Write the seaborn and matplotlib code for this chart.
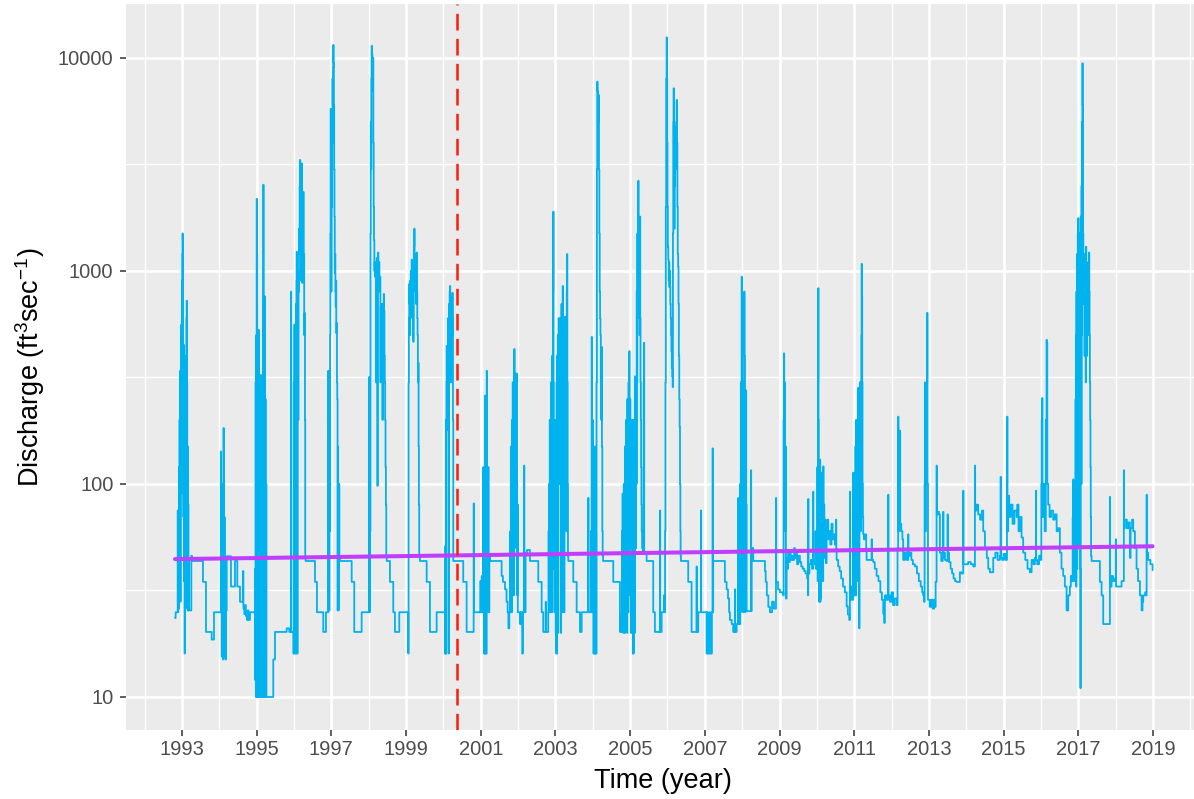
import matplotlib
matplotlib.use("Agg")
import matplotlib.pyplot as plt
import seaborn as sns
import pandas as pd
from matplotlib.ticker import FixedLocator, FixedFormatter

# ---------------- data (decimal year, discharge ft3/s) ----------------
flow_1993_1994 = [
    (1992.813, 23.5), (1992.830, 25), (1992.885, 75), (1992.893, 25), (1992.901, 60), (1992.909, 26),
    (1992.917, 120), (1992.925, 30), (1992.933, 200), (1992.941, 45), (1992.949, 340), (1992.957, 28),
    (1992.965, 250), (1992.973, 90), (1992.981, 560), (1992.989, 300), (1992.997, 900), (1993.005, 1200),
    (1993.013, 1500), (1993.021, 1400), (1993.029, 300), (1993.037, 70), (1993.045, 450), (1993.053, 35),
    (1993.061, 200), (1993.069, 16), (1993.077, 120), (1993.085, 30), (1993.093, 400), (1993.101, 60),
    (1993.109, 250), (1993.117, 600), (1993.125, 725), (1993.133, 300), (1993.141, 26), (1993.149, 150),
    (1993.157, 25.5), (1993.165, 80), (1993.173, 25.5), (1993.181, 45), (1993.189, 25.5), (1993.250, 46),
    (1993.268, 43.5), (1993.562, 34.7), (1993.643, 20.2), (1993.795, 18.6), (1993.857, 25),
    (1994.040, 142), (1994.048, 25), (1994.056, 60), (1994.064, 15.5), (1994.072, 30), (1994.080, 16),
    (1994.088, 100), (1994.096, 15), (1994.104, 60), (1994.112, 183), (1994.120, 40), (1994.128, 15.5),
    (1994.136, 70), (1994.144, 16), (1994.152, 30), (1994.160, 15), (1994.175, 25.5), (1994.197, 45.8),
    (1994.312, 33), (1994.419, 43.5), (1994.481, 33), (1994.553, 28), (1994.630, 39), (1994.645, 26),
    (1994.670, 24.5), (1994.690, 27), (1994.710, 24), (1994.740, 23), (1994.760, 25.5), (1994.780, 23),
    (1994.821, 25),
]

flow_1995_1996 = [
    (1994.954, 40), (1994.962, 12), (1994.970, 300), (1994.978, 10), (1994.986, 500), (1994.994, 30),
    (1995.000, 2180), (1995.008, 1200), (1995.016, 10), (1995.024, 400), (1995.032, 10), (1995.040, 150),
    (1995.054, 528), (1995.062, 12), (1995.070, 250), (1995.078, 10), (1995.086, 200), (1995.094, 10),
    (1995.100, 120), (1995.107, 325), (1995.115, 10), (1995.123, 180), (1995.131, 10), (1995.139, 90),
    (1995.147, 10), (1995.155, 300), (1995.163, 10), (1995.170, 700), (1995.177, 2540), (1995.185, 10),
    (1995.193, 400), (1995.201, 10), (1995.214, 760), (1995.222, 10), (1995.232, 250), (1995.242, 10),
    (1995.252, 100), (1995.262, 10), (1995.444, 15), (1995.490, 20.2), (1995.803, 21), (1995.873, 20.2),
    (1995.918, 800), (1995.924, 20.2), (1995.985, 16), (1995.993, 300), (1996.001, 16), (1996.009, 560),
    (1996.017, 20), (1996.025, 400), (1996.033, 16), (1996.041, 200), (1996.049, 700), (1996.057, 16),
    (1996.065, 900), (1996.071, 1230), (1996.079, 300), (1996.087, 16), (1996.095, 600), (1996.103, 1000),
    (1996.111, 200), (1996.119, 800), (1996.133, 1580), (1996.141, 1200), (1996.151, 2500), (1996.159, 3320),
    (1996.167, 2800), (1996.175, 1500), (1996.183, 2000), (1996.191, 900), (1996.199, 2600), (1996.205, 3200),
    (1996.213, 1800), (1996.221, 880), (1996.229, 1500), (1996.237, 1000), (1996.248, 2350), (1996.256, 900),
    (1996.264, 1200), (1996.272, 500), (1996.285, 635), (1996.293, 200), (1996.300, 45.8), (1996.310, 43.5),
    (1996.561, 34.7), (1996.614, 25), (1996.783, 20.2), (1996.855, 25),
]

flow_1997_1998 = [
    (1996.917, 340), (1996.925, 25.5), (1996.933, 215), (1996.941, 25.5), (1996.949, 100), (1996.957, 60),
    (1996.965, 500), (1996.973, 1500), (1996.981, 5770), (1996.989, 3000), (1996.997, 800), (1997.005, 5500),
    (1997.013, 2000), (1997.021, 4000), (1997.029, 8000), (1997.037, 6000), (1997.045, 9000), (1997.051, 11500),
    (1997.059, 9500), (1997.067, 6000), (1997.075, 3000), (1997.083, 1800), (1997.091, 980), (1997.099, 1200),
    (1997.107, 800), (1997.115, 680), (1997.123, 900), (1997.131, 510), (1997.142, 570), (1997.150, 300),
    (1997.158, 250), (1997.166, 25.5), (1997.174, 150), (1997.182, 80), (1997.190, 25.5), (1997.198, 100),
    (1997.214, 45.8), (1997.230, 43.5), (1997.544, 34.7), (1997.613, 20.2), (1997.811, 25),
    (1998.015, 318), (1998.022, 25), (1998.030, 200), (1998.038, 60), (1998.046, 1500), (1998.054, 5000),
    (1998.062, 3000), (1998.070, 8000), (1998.079, 11400), (1998.088, 10500), (1998.097, 9000), (1998.106, 7000),
    (1998.115, 10000), (1998.124, 4000), (1998.133, 2000), (1998.142, 1400), (1998.151, 1000), (1998.160, 1100),
    (1998.169, 940), (1998.178, 1050), (1998.187, 940), (1998.196, 300), (1998.205, 1000), (1998.214, 1150),
    (1998.223, 1000), (1998.232, 98), (1998.241, 1100), (1998.250, 1220), (1998.259, 1000), (1998.268, 900),
    (1998.277, 1100), (1998.286, 940), (1998.295, 800), (1998.304, 940), (1998.313, 300), (1998.322, 680),
    (1998.331, 500), (1998.340, 700), (1998.349, 400), (1998.358, 600), (1998.367, 200), (1998.376, 700),
    (1998.385, 400), (1998.394, 600), (1998.403, 780), (1998.412, 650), (1998.421, 400), (1998.430, 300),
    (1998.440, 200), (1998.450, 120), (1998.460, 80), (1998.470, 45.8), (1998.481, 43.5), (1998.569, 34.7),
    (1998.657, 25), (1998.703, 20.2), (1998.818, 25),
]

flow_1999_2000 = [
    (1999.059, 16), (1999.067, 300), (1999.075, 600), (1999.086, 870), (1999.094, 700), (1999.102, 500),
    (1999.110, 900), (1999.118, 700), (1999.126, 1000), (1999.134, 800), (1999.142, 950), (1999.150, 1130),
    (1999.158, 900), (1999.166, 600), (1999.174, 1000), (1999.182, 800), (1999.193, 465), (1999.201, 1000),
    (1999.209, 1300), (1999.220, 1580), (1999.228, 1200), (1999.236, 900), (1999.244, 1100), (1999.252, 800),
    (1999.260, 1000), (1999.268, 700), (1999.276, 900), (1999.284, 1220), (1999.292, 800), (1999.300, 600),
    (1999.308, 500), (1999.318, 300), (1999.327, 370), (1999.335, 150), (1999.343, 80), (1999.352, 45.8),
    (1999.372, 43.5), (1999.552, 34.7), (1999.640, 20.2), (1999.819, 25),
    (2000.041, 16), (2000.049, 51), (2000.057, 16), (2000.065, 200), (2000.073, 16), (2000.081, 300),
    (2000.087, 445), (2000.095, 200), (2000.103, 400), (2000.111, 180), (2000.119, 600), (2000.127, 300),
    (2000.135, 500), (2000.143, 16), (2000.151, 700), (2000.159, 400), (2000.167, 800), (2000.175, 850),
    (2000.183, 600), (2000.191, 700), (2000.199, 300), (2000.207, 650), (2000.215, 400), (2000.223, 750),
    (2000.231, 500), (2000.240, 790), (2000.248, 600), (2000.256, 200), (2000.264, 43.5), (2000.531, 34.7),
    (2000.622, 20.2), (2000.810, 81), (2000.818, 25),
]

flow_2001_2003 = [
    (2000.978, 25), (2000.990, 35), (2001.000, 25), (2001.024, 37), (2001.032, 25), (2001.050, 30),
    (2001.067, 120), (2001.075, 25), (2001.083, 60), (2001.091, 16), (2001.099, 100), (2001.106, 16),
    (2001.112, 260), (2001.120, 40), (2001.128, 16), (2001.136, 150), (2001.144, 16), (2001.158, 340),
    (2001.166, 100), (2001.174, 30), (2001.182, 80), (2001.190, 25), (2001.201, 120), (2001.208, 25),
    (2001.230, 46), (2001.246, 43.5), (2001.559, 37), (2001.594, 34.7), (2001.650, 32), (2001.690, 28),
    (2001.720, 25), (2001.740, 21), (2001.765, 25), (2001.790, 60), (2001.798, 25), (2001.806, 150),
    (2001.814, 30), (2001.822, 100), (2001.830, 25), (2001.838, 200), (2001.846, 40), (2001.854, 300),
    (2001.862, 60), (2001.870, 250), (2001.878, 30), (2001.886, 200), (2001.897, 430), (2001.905, 250),
    (2001.913, 100), (2001.921, 330), (2001.929, 80), (2001.937, 200), (2001.945, 50), (2001.953, 150),
    (2001.961, 330), (2001.969, 100), (2001.977, 30), (2001.985, 80), (2001.993, 25), (2002.050, 22),
    (2002.070, 25), (2002.110, 16), (2002.130, 25), (2002.160, 122), (2002.168, 25), (2002.200, 47.6),
    (2002.237, 49), (2002.317, 43.5), (2002.540, 34.7), (2002.631, 25), (2002.674, 20.2), (2002.738, 28),
    (2002.746, 20.2),
    (2002.807, 25), (2002.815, 60), (2002.823, 25), (2002.831, 100), (2002.839, 25), (2002.847, 200),
    (2002.855, 30), (2002.863, 150), (2002.871, 25), (2002.879, 300), (2002.887, 50), (2002.895, 200),
    (2002.903, 25), (2002.911, 400), (2002.919, 100), (2002.927, 60), (2002.935, 800), (2002.941, 1900),
    (2002.949, 300), (2002.957, 40), (2002.965, 150), (2002.973, 25), (2002.981, 100), (2002.989, 30),
    (2002.997, 200), (2003.005, 20), (2003.013, 150), (2003.021, 16), (2003.029, 300), (2003.037, 16),
    (2003.045, 400), (2003.053, 100), (2003.061, 500), (2003.069, 20), (2003.077, 300), (2003.085, 600),
    (2003.093, 200), (2003.101, 450), (2003.109, 100), (2003.120, 600), (2003.128, 250), (2003.136, 500),
    (2003.144, 20), (2003.152, 450), (2003.160, 700), (2003.168, 300), (2003.176, 600), (2003.184, 25),
    (2003.193, 850), (2003.201, 400), (2003.209, 600), (2003.217, 200), (2003.225, 500), (2003.233, 25),
    (2003.241, 400), (2003.249, 300), (2003.255, 610), (2003.263, 200), (2003.271, 500), (2003.279, 100),
    (2003.287, 300), (2003.295, 60), (2003.303, 800), (2003.310, 1200), (2003.318, 300), (2003.326, 100),
    (2003.335, 45.8), (2003.345, 43.5), (2003.477, 34.7), (2003.568, 25), (2003.657, 20.2), (2003.702, 25),
    (2003.878, 86), (2003.886, 25),
]

flow_2004_2005 = [
    (2003.950, 60), (2003.958, 25), (2003.969, 490), (2003.977, 100), (2003.985, 25), (2003.993, 200),
    (2004.001, 30), (2004.015, 16), (2004.030, 100), (2004.040, 16), (2004.055, 150), (2004.065, 16),
    (2004.080, 60), (2004.090, 16), (2004.100, 300), (2004.110, 3000), (2004.119, 7740), (2004.128, 7000),
    (2004.140, 5000), (2004.156, 6700), (2004.165, 3000), (2004.175, 1500), (2004.185, 800), (2004.195, 600),
    (2004.205, 500), (2004.215, 300), (2004.225, 200), (2004.237, 440), (2004.245, 150), (2004.255, 60),
    (2004.265, 46), (2004.275, 43.5), (2004.548, 34.7), (2004.727, 20.2),
    (2004.772, 25), (2004.780, 60), (2004.788, 20.2), (2004.796, 90), (2004.804, 25), (2004.812, 58),
    (2004.820, 20), (2004.828, 100), (2004.836, 25), (2004.844, 70), (2004.852, 20), (2004.860, 150),
    (2004.868, 30), (2004.876, 91), (2004.884, 25), (2004.892, 200), (2004.900, 40), (2004.908, 100),
    (2004.916, 20), (2004.924, 250), (2004.932, 60), (2004.940, 150), (2004.948, 25), (2004.956, 300),
    (2004.964, 100), (2004.976, 420), (2004.984, 200), (2004.992, 50), (2005.000, 250), (2005.008, 30),
    (2005.016, 150), (2005.024, 20), (2005.032, 100), (2005.040, 25), (2005.048, 200), (2005.056, 40),
    (2005.064, 120), (2005.072, 16), (2005.080, 80), (2005.088, 16), (2005.096, 200), (2005.104, 30),
    (2005.112, 100), (2005.120, 20), (2005.128, 320), (2005.136, 100), (2005.144, 200), (2005.152, 50),
    (2005.160, 300), (2005.168, 100), (2005.176, 800), (2005.184, 300), (2005.192, 1500), (2005.200, 600),
    (2005.208, 1000), (2005.217, 2650), (2005.225, 1500), (2005.233, 800), (2005.241, 1200), (2005.249, 500),
    (2005.262, 1800), (2005.270, 600), (2005.278, 300), (2005.286, 200), (2005.294, 120), (2005.302, 80),
    (2005.310, 60), (2005.320, 50), (2005.340, 47.6), (2005.362, 300), (2005.369, 460), (2005.377, 47.6),
    (2005.442, 43.5), (2005.618, 25), (2005.663, 20.2), (2005.797, 75), (2005.805, 20.2), (2005.843, 25),
]

flow_2006_2007 = [
    (2005.905, 30), (2005.920, 25), (2005.935, 60), (2005.945, 300), (2005.955, 2000), (2005.965, 8000),
    (2005.977, 12500), (2005.985, 8000), (2005.993, 4000), (2006.001, 2000), (2006.010, 1300), (2006.020, 1130),
    (2006.030, 900), (2006.040, 1100), (2006.050, 840), (2006.058, 1000), (2006.066, 850), (2006.076, 700),
    (2006.086, 600), (2006.096, 500), (2006.106, 420), (2006.116, 350), (2006.126, 320), (2006.138, 285),
    (2006.146, 1500), (2006.155, 5000), (2006.163, 7200), (2006.173, 4000), (2006.182, 1580), (2006.190, 2500),
    (2006.199, 3500), (2006.210, 4750), (2006.220, 3000), (2006.232, 5000), (2006.245, 6350), (2006.255, 4000),
    (2006.265, 2000), (2006.275, 1200), (2006.285, 1050), (2006.295, 700), (2006.305, 400), (2006.315, 250),
    (2006.325, 185), (2006.335, 100), (2006.345, 60), (2006.352, 45.8), (2006.360, 43.5), (2006.555, 34.7),
    (2006.645, 20.2), (2006.779, 41), (2006.785, 20.2), (2006.823, 25), (2006.895, 75), (2006.901, 25),
    (2007.047, 16), (2007.060, 25), (2007.075, 16), (2007.090, 22), (2007.105, 16), (2007.120, 25),
    (2007.135, 16), (2007.150, 20), (2007.165, 16), (2007.189, 25), (2007.208, 147), (2007.214, 25),
    (2007.224, 43.5), (2007.537, 34.7), (2007.583, 32), (2007.620, 29), (2007.650, 25), (2007.671, 23),
    (2007.720, 22), (2007.760, 20.2), (2007.806, 32), (2007.812, 20.2), (2007.851, 22), (2007.895, 86),
    (2007.901, 22),
]

flow_2008_2010 = [
    (2007.940, 22), (2007.948, 100), (2007.956, 25), (2007.964, 300), (2007.972, 60), (2007.985, 940),
    (2007.993, 500), (2008.001, 200), (2008.009, 60), (2008.017, 300), (2008.025, 25), (2008.033, 150),
    (2008.041, 40), (2008.055, 800), (2008.063, 400), (2008.071, 100), (2008.079, 25), (2008.087, 200),
    (2008.095, 60), (2008.100, 275), (2008.108, 80), (2008.119, 25.3), (2008.235, 116), (2008.241, 25.3),
    (2008.253, 50), (2008.296, 43.5), (2008.610, 39), (2008.630, 34.7), (2008.660, 30), (2008.700, 26.5),
    (2008.744, 25), (2008.800, 28), (2008.850, 26), (2008.905, 86), (2008.911, 34.7), (2008.960, 32),
    (2009.011, 31), (2009.099, 30), (2009.110, 200), (2009.117, 410), (2009.125, 100), (2009.135, 300),
    (2009.145, 60), (2009.160, 150), (2009.171, 29), (2009.190, 45), (2009.210, 40), (2009.230, 47.6),
    (2009.250, 43), (2009.278, 47.6), (2009.300, 44), (2009.330, 46), (2009.360, 44), (2009.390, 50),
    (2009.412, 45), (2009.440, 47.6), (2009.470, 42), (2009.500, 46), (2009.546, 43), (2009.580, 41),
    (2009.620, 40), (2009.660, 39), (2009.700, 38), (2009.740, 36), (2009.760, 30), (2009.768, 85),
    (2009.774, 38), (2009.800, 42), (2009.840, 44), (2009.870, 40), (2009.900, 92), (2009.906, 42),
    (2009.940, 44), (2009.960, 60), (2009.975, 40), (2009.990, 55),
    (2010.000, 40), (2010.010, 120), (2010.020, 35), (2010.028, 300), (2010.036, 830), (2010.044, 200),
    (2010.052, 60), (2010.060, 28), (2010.068, 100), (2010.076, 40), (2010.082, 130), (2010.090, 28),
    (2010.098, 80), (2010.106, 29), (2010.114, 60), (2010.127, 113), (2010.135, 40), (2010.145, 70),
    (2010.155, 35), (2010.170, 121), (2010.178, 50), (2010.190, 80), (2010.200, 45), (2010.216, 68),
    (2010.230, 55), (2010.245, 42.5), (2010.261, 60), (2010.280, 68), (2010.304, 55), (2010.330, 60),
    (2010.360, 52), (2010.390, 65), (2010.420, 55), (2010.450, 58), (2010.480, 52), (2010.510, 68),
    (2010.520, 50), (2010.529, 44), (2010.570, 41), (2010.610, 39), (2010.650, 36), (2010.700, 33),
    (2010.750, 31), (2010.797, 26.6), (2010.830, 24.4), (2010.866, 23), (2010.885, 92), (2010.891, 28.6),
    (2010.930, 33), (2010.960, 28.6), (2010.973, 113), (2010.979, 30),
]

flow_2011_2013 = [
    (2011.019, 40), (2011.030, 150), (2011.040, 30), (2011.050, 200), (2011.060, 40), (2011.070, 100),
    (2011.080, 35), (2011.090, 150), (2011.100, 50), (2011.107, 283), (2011.115, 100), (2011.125, 40),
    (2011.134, 21), (2011.140, 80), (2011.153, 300), (2011.160, 120), (2011.170, 60), (2011.180, 200),
    (2011.190, 500), (2011.198, 1080), (2011.206, 760), (2011.214, 300), (2011.222, 100), (2011.232, 70),
    (2011.241, 58), (2011.260, 55), (2011.290, 58), (2011.320, 50), (2011.332, 44), (2011.400, 44),
    (2011.466, 55), (2011.472, 44), (2011.509, 43), (2011.550, 40), (2011.600, 37), (2011.650, 35),
    (2011.700, 31), (2011.740, 28.6), (2011.777, 24.6), (2011.800, 22.3), (2011.822, 30), (2011.860, 28.6),
    (2011.910, 89), (2011.916, 30), (2011.956, 28), (2012.000, 31), (2012.040, 27), (2012.080, 29),
    (2012.135, 27), (2012.160, 50), (2012.177, 207), (2012.185, 60), (2012.210, 100), (2012.223, 178),
    (2012.231, 65), (2012.260, 60), (2012.290, 55), (2012.311, 44), (2012.350, 47.6), (2012.400, 44),
    (2012.445, 58), (2012.451, 46), (2012.490, 47.6), (2012.530, 44), (2012.570, 42), (2012.624, 41),
    (2012.680, 38), (2012.730, 35), (2012.780, 33), (2012.820, 31), (2012.846, 30), (2012.870, 28),
    (2012.885, 100), (2012.892, 300), (2012.900, 60), (2012.920, 100), (2012.935, 300), (2012.954, 636),
    (2012.962, 100), (2012.975, 28.6), (2013.020, 26.5), (2013.060, 28.6), (2013.100, 26), (2013.140, 28.6),
    (2013.160, 26.5), (2013.180, 34.7), (2013.206, 122), (2013.212, 72), (2013.240, 74), (2013.270, 72),
    (2013.294, 47.6), (2013.330, 43.5), (2013.370, 45), (2013.382, 74), (2013.388, 47.6), (2013.430, 44),
    (2013.473, 43.5), (2013.500, 72), (2013.506, 47.6), (2013.540, 43), (2013.580, 40), (2013.620, 38),
    (2013.660, 36), (2013.700, 35), (2013.741, 34.7), (2013.800, 34.7), (2013.829, 38.5), (2013.870, 38),
    (2013.918, 93), (2013.924, 42), (2013.970, 42),
]

flow_2014_2016 = [
    (2014.050, 43), (2014.120, 42), (2014.186, 41), (2014.232, 122), (2014.238, 75), (2014.277, 80),
    (2014.320, 72), (2014.370, 68), (2014.420, 75), (2014.454, 60), (2014.500, 50), (2014.550, 45),
    (2014.588, 40), (2014.633, 38.5), (2014.680, 38.5), (2014.722, 45), (2014.780, 47.6), (2014.840, 44),
    (2014.900, 46), (2014.920, 108), (2014.926, 45), (2014.960, 44), (2015.000, 47), (2015.050, 44),
    (2015.090, 100), (2015.096, 207), (2015.103, 60), (2015.123, 88), (2015.150, 70), (2015.190, 80),
    (2015.240, 65), (2015.290, 75), (2015.348, 70), (2015.364, 80), (2015.400, 60), (2015.440, 70),
    (2015.481, 56), (2015.524, 47.6), (2015.580, 44), (2015.640, 40), (2015.703, 38.5), (2015.750, 44),
    (2015.800, 42), (2015.838, 45), (2015.865, 93), (2015.871, 44), (2015.900, 42), (2015.950, 46),
    (2015.990, 44), (2016.010, 100), (2016.020, 200), (2016.032, 253), (2016.040, 70), (2016.070, 100),
    (2016.100, 60), (2016.130, 200), (2016.150, 475), (2016.158, 460), (2016.170, 100), (2016.193, 80),
    (2016.230, 70), (2016.270, 75), (2016.327, 68), (2016.373, 72), (2016.420, 60), (2016.461, 62),
    (2016.507, 47.6), (2016.550, 40), (2016.595, 37), (2016.640, 33), (2016.686, 25.5), (2016.730, 30),
    (2016.774, 33), (2016.800, 37), (2016.830, 35), (2016.850, 70), (2016.863, 105), (2016.870, 40),
    (2016.890, 35),
]

flow_2017_2018 = [
    (2016.908, 37), (2016.914, 100), (2016.920, 35), (2016.926, 250), (2016.932, 40), (2016.938, 500),
    (2016.944, 33), (2016.950, 800), (2016.956, 50), (2016.962, 1200), (2016.968, 40), (2016.974, 1000),
    (2016.980, 100), (2016.986, 1500), (2016.992, 60), (2016.997, 1770), (2017.003, 200), (2017.009, 1000),
    (2017.015, 50), (2017.021, 1200), (2017.027, 300), (2017.033, 1500), (2017.039, 80), (2017.045, 1100),
    (2017.051, 40), (2017.057, 11), (2017.063, 1800), (2017.069, 300), (2017.075, 1500), (2017.081, 100),
    (2017.087, 2500), (2017.093, 500), (2017.099, 5000), (2017.105, 2000), (2017.111, 9440), (2017.117, 6000),
    (2017.123, 3000), (2017.129, 1500), (2017.135, 700), (2017.141, 1100), (2017.150, 810), (2017.158, 1200),
    (2017.166, 400), (2017.174, 1100), (2017.182, 600), (2017.190, 1000), (2017.198, 300), (2017.206, 1300),
    (2017.214, 700), (2017.222, 1100), (2017.230, 400), (2017.238, 900), (2017.246, 730), (2017.254, 1000),
    (2017.262, 500), (2017.270, 900), (2017.278, 600), (2017.286, 1220), (2017.294, 800), (2017.302, 500),
    (2017.310, 300), (2017.318, 200), (2017.326, 120), (2017.334, 70), (2017.342, 46), (2017.356, 43.5),
    (2017.578, 34.7), (2017.624, 30), (2017.667, 22), (2017.846, 87), (2017.852, 33), (2017.891, 37),
    (2017.930, 35), (2017.970, 36), (2018.005, 55), (2018.011, 33), (2018.100, 33), (2018.158, 35),
    (2018.220, 116), (2018.226, 62), (2018.247, 68), (2018.300, 62), (2018.340, 66), (2018.381, 45),
    (2018.400, 62), (2018.440, 68), (2018.470, 60), (2018.516, 50), (2018.560, 40), (2018.600, 35),
    (2018.650, 30), (2018.695, 25.5), (2018.720, 28), (2018.738, 30), (2018.790, 31), (2018.810, 30),
    (2018.829, 89), (2018.835, 47.6), (2018.871, 44), (2018.930, 42), (2018.989, 39.4),
]

trend_years = [1992.813, 2018.989]
trend_discharge = [44.4, 51.0]
breakpoint_year = 2000.371

x_tick_years = [1993, 1995, 1997, 1999, 2001, 2003, 2005, 2007, 2009, 2011, 2013, 2015, 2017, 2019]
x_minor_years = [1992, 1994, 1996, 1998, 2000, 2002, 2004, 2006, 2008, 2010, 2012, 2014, 2016, 2018, 2020]
y_ticks = [10, 100, 1000, 10000]
y_tick_labels = ["10", "100", "1000", "10000"]
y_minor = [10 ** 1.5, 10 ** 2.5, 10 ** 3.5]

# ---------------- figure ----------------
segments = [flow_1993_1994, flow_1995_1996, flow_1997_1998, flow_1999_2000, flow_2001_2003,
            flow_2004_2005, flow_2006_2007, flow_2008_2010, flow_2011_2013, flow_2014_2016,
            flow_2017_2018]
rows = [p for seg in segments for p in seg]
df = pd.DataFrame(rows, columns=["year", "discharge"])
trend_df = pd.DataFrame({"year": trend_years, "discharge": trend_discharge})

sns.set_theme(style="darkgrid")
plt.rcParams["font.family"] = ["Liberation Sans", "DejaVu Sans"]
plt.rcParams["mathtext.fontset"] = "custom"
plt.rcParams["mathtext.rm"] = "Liberation Sans"
plt.rcParams["mathtext.it"] = "Liberation Sans:italic"
plt.rcParams["lines.scale_dashes"] = False

W, H = 1194, 799
fig = plt.figure(figsize=(W / 100, H / 100), dpi=100)
fig.patch.set_facecolor("white")
left_px, right_px, top_px, bot_px = 126.3, 1201.5, 4.3, 730.0
ax = fig.add_axes([left_px / W, 1 - bot_px / H, (right_px - left_px) / W, (bot_px - top_px) / H])
ax.set_facecolor("#EBEBEB")

sns.lineplot(data=df, x="year", y="discharge", ax=ax, color="#00B2EE", lw=1.3,
             estimator=None, sort=False, drawstyle="steps-post", zorder=3)
sns.lineplot(data=trend_df, x="year", y="discharge", ax=ax, color="#BF3EFF", lw=2.9,
             estimator=None, zorder=4)
ax.axvline(breakpoint_year, color="#FF1A0A", lw=1.8, dashes=(12.0, 6.0), zorder=5)

ax.set_yscale("log")
ax.set_xlim(1991.509, 2020.299)
ax.set_ylim(10 ** 0.845, 10 ** 4.252)

ax.xaxis.set_major_locator(FixedLocator(x_tick_years))
ax.xaxis.set_major_formatter(FixedFormatter([str(y) for y in x_tick_years]))
ax.xaxis.set_minor_locator(FixedLocator(x_minor_years))
ax.yaxis.set_major_locator(FixedLocator(y_ticks))
ax.yaxis.set_major_formatter(FixedFormatter(y_tick_labels))
ax.yaxis.set_minor_locator(FixedLocator(y_minor))
ax.yaxis.set_minor_formatter(FixedFormatter(["", "", ""]))

ax.grid(which="major", color="white", lw=1.9)
ax.grid(which="minor", color="white", lw=0.95)
ax.set_axisbelow(True)
for s in ax.spines.values():
    s.set_visible(False)

ax.tick_params(which="major", length=4.3, width=1.1, color="#333333",
               labelcolor="#4D4D4D", labelsize=14.5)
ax.tick_params(axis="x", which="major", pad=2.7)
ax.tick_params(axis="y", which="major", pad=5)
ax.tick_params(which="minor", length=0)
ax.tick_params(axis="both", which="both", bottom=True, left=True)

ax.set_xlabel("Time (year)", fontsize=19.5, color="black", labelpad=2.5)
ax.set_ylabel(r"Discharge (ft$^{3}$sec$^{-1}$)", fontsize=19.5, color="black", labelpad=10)
ax.yaxis.set_label_coords(-(left_px - 30) / (right_px - left_px), 0.5)
ax.xaxis.set_label_coords((663 - left_px) / (right_px - left_px), -(781 - bot_px) / (bot_px - top_px))
ax.xaxis.label.set_va("center")
ax.yaxis.label.set_va("center")

fig.savefig("out.png", dpi=100, facecolor="white")
